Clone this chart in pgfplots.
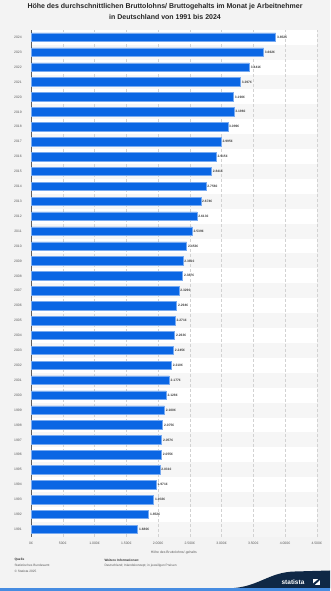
\documentclass[border=0pt]{standalone}
\usepackage{pgfplots}
\pgfplotsset{compat=1.18}
\usepackage{pgfplotstable}
\usepackage{fontspec}
\setmainfont{Liberation Sans}
\definecolor{bg}{RGB}{243,243,243}
\definecolor{stripe}{RGB}{246,246,246}
\definecolor{barblue}{RGB}{10,102,228}
\definecolor{baredge}{RGB}{120,170,240}
\definecolor{navy}{RGB}{15,40,70}
\definecolor{lineblue}{RGB}{70,140,225}
\definecolor{txt}{RGB}{90,90,90}
\pgfplotstableread{
year value
2024 3852
2023 3662
2022 3441
2021 3297
2020 3190
2019 3196
2018 3099
2017 2995
2016 2915
2015 2841
2014 2756
2013 2674
2012 2613
2011 2539
2010 2453
2009 2391
2008 2387
2007 2329
2006 2294
2005 2271
2004 2263
2003 2245
2002 2210
2001 2177
2000 2128
1999 2100
1998 2075
1997 2057
1996 2055
1995 2031
1994 1971
1993 1933
1992 1852
1991 1680
}\datatable
\begin{document}
\begin{tikzpicture}
\fill[bg] (0,0) rectangle (330pt,591pt);
% plot area background with alternating row stripes
\fill[white] (31pt,54.2pt) rectangle (316.7pt,561.2pt);
\foreach \i in {0,2,...,32} {
  \pgfmathsetmacro{\ya}{54.2+\i*14.91176}
  \pgfmathsetmacro{\yb}{54.2+(\i+1)*14.91176}
  \fill[stripe] (31pt,\ya pt) rectangle (316.7pt,\yb pt);
}
% title
\node[font=\fontsize{7}{8}\selectfont\bfseries, text=black!85] at (165pt,584.3pt) {Höhe des durchschnittlichen Bruttolohns/ Bruttogehalts im Monat je Arbeitnehmer};
\node[font=\fontsize{7}{8}\selectfont\bfseries, text=black!85] at (165pt,573.7pt) {in Deutschland von 1991 bis 2024};
\begin{axis}[
  at={(31pt,54.2pt)}, anchor=south west,
  scale only axis, width=285.7pt, height=507pt,
  xmin=0, xmax=4500, ymin=1990.5, ymax=2024.5,
  xbar, bar width=0.57,
  xtick={0,500,...,4500},
  xticklabels={0€,500€,1.000€,1.500€,2.000€,2.500€,3.000€,3.500€,4.000€,4.500€},
  ytick={1991,...,2024},
  yticklabel={\pgfmathprintnumber[fixed,precision=0,1000 sep={},assume math mode=true]{\tick}},
  major tick length=0pt,
  xmajorgrids,
  grid style={densely dashed, gray!35, line width=0.3pt},
  axis x line*=bottom,
  axis y line*=left,
  x axis line style={draw=none},
  y axis line style={draw=gray!75!black, line width=0.8pt},
  tick label style={font=\fontsize{3.4}{4}\selectfont, text=txt},
  xticklabel style={anchor=center, yshift=-6.7pt},
  yticklabel style={anchor=center, xshift=-13pt},
  xlabel={Höhe des Bruttolohns/-gehalts},
  xlabel style={at={(axis description cs:0.5,0)}, anchor=center, yshift=-15.9pt, font=\fontsize{3.4}{4}\selectfont, text=txt},
  point meta=x,
  nodes near coords={\pgfmathprintnumber[fixed,precision=0,1000 sep={.},assume math mode=true]{\pgfplotspointmeta}€},
  every node near coord/.append style={font=\fontsize{3.3}{4}\selectfont\bfseries, text=black!75, anchor=west, inner sep=1.2pt},
]
\addplot[fill=barblue, draw=baredge, line width=0.5pt] table[x=value,y=year]{\datatable};
\end{axis}
% source block
\node[anchor=west, font=\fontsize{3.2}{4}\selectfont\bfseries, text=black!80] at (11pt,31pt) {Quelle};
\node[anchor=west, font=\fontsize{3.2}{4}\selectfont, text=txt] at (11pt,25.3pt) {Statistisches Bundesamt};
\node[anchor=west, font=\fontsize{3.2}{4}\selectfont, text=txt] at (11pt,19.3pt) {© Statista 2025};
\node[anchor=west, font=\fontsize{3.2}{4}\selectfont\bfseries, text=black!80] at (101pt,31pt) {Weitere Informationen:};
\node[anchor=west, font=\fontsize{3.2}{4}\selectfont, text=txt] at (101pt,25.3pt) {Deutschland; Inlandskonzept; in jeweiligen Preisen};
% bottom band and logo
\fill[navy] (228pt,2.7pt) .. controls (258pt,3pt) and (268pt,19pt) .. (295pt,19.5pt) -- (330pt,20.5pt) -- (330pt,2.7pt) -- cycle;
\fill[lineblue] (0,0) rectangle (330pt,2.7pt);
\node[text=white, font=\fontsize{6.5}{7}\selectfont\bfseries] at (293pt,9pt) {statista};
\fill[white] (313pt,6pt) rectangle (320pt,12pt);
\fill[navy] (313pt,7.5pt) -- (318.5pt,12pt) -- (320pt,12pt) -- (320pt,11pt) -- (314.5pt,6pt) -- (313pt,6pt) -- cycle;
\end{tikzpicture}
\end{document}
